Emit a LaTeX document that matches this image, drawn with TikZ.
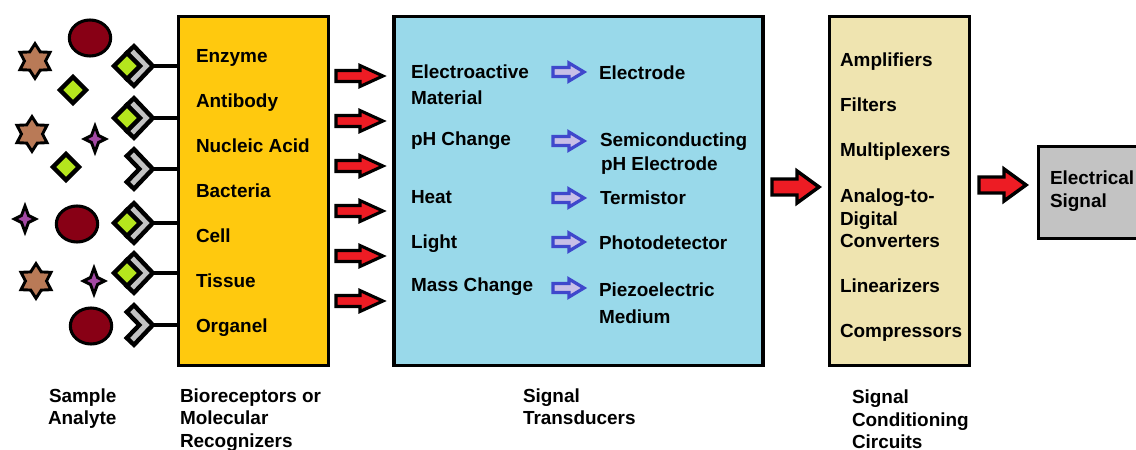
\documentclass[tikz,border=0pt]{standalone}
\usepackage{fontspec}
\setmainfont{Liberation Sans}
\usetikzlibrary{shapes.geometric}
\definecolor{boxyellow}{HTML}{FFC90E}
\definecolor{boxblue}{HTML}{99D9EA}
\definecolor{boxtan}{HTML}{EFE4B0}
\definecolor{boxgray}{HTML}{C3C3C3}
\definecolor{redarrow}{HTML}{ED1C24}
\definecolor{bluefill}{HTML}{C8BFE7}
\definecolor{blueline}{HTML}{3F48CC}
\definecolor{starbrown}{HTML}{B97A57}
\definecolor{maroon}{HTML}{880015}
\definecolor{plum}{HTML}{A349A4}
\definecolor{lime}{HTML}{B5E61D}
\definecolor{chevgray}{HTML}{C3C3C3}
\tikzset{
  panel/.style={draw=black,line width=2.6pt,inner sep=0pt,outer sep=0pt,anchor=north west},
  lbl/.style={anchor=base west,inner sep=0pt,outer sep=0pt,font=\fontsize{14.2}{14.2}\selectfont\bfseries,text=black},
  sixstar/.style={star,star points=6,star point ratio=1.65,draw=black,fill=starbrown,line width=2.2pt,minimum size=26pt,inner sep=0pt,outer sep=0pt},
  blob/.style={ellipse,draw=black,fill=maroon,line width=2.3pt,minimum width=31pt,minimum height=27pt,inner sep=0pt,outer sep=0pt},
  gem/.style={diamond,aspect=1,draw=black,fill=lime,line width=3.4pt,minimum size=19.5pt,inner sep=0pt,outer sep=0pt},
  conn/.style={draw=black,line width=2.3pt},
  chevron/.pic={\draw[draw=black,fill=chevgray,line width=3.3pt,miter limit=10] (-18.8,-19.8) -- (0,0) -- (-18.8,19.8) -- (-26,13) -- (-13.5,0) -- (-26,-13) -- cycle;},
  fourstar/.pic={\draw[draw=black,fill=plum,line width=2.2pt,miter limit=10] (0,-13) -- (3.5,-3.5) -- (10.5,0) -- (3.5,3.5) -- (0,13) -- (-3.5,3.5) -- (-10.5,0) -- (-3.5,-3.5) -- cycle;},
  redsmall/.pic={\draw[draw=black,fill=redarrow,line width=2.3pt,miter limit=10] (0,-5.5) -- (24,-5.5) -- (24,-10.5) -- (47,0) -- (24,10.5) -- (24,5.5) -- (0,5.5) -- cycle;},
  redlarge/.pic={\draw[draw=black,fill=redarrow,line width=2.6pt,miter limit=10] (0,-8) -- (25,-8) -- (25,-16) -- (47,0) -- (25,16) -- (25,8) -- (0,8) -- cycle;},
  bluesmall/.pic={\draw[draw=blueline,fill=bluefill,line width=2.4pt,miter limit=10] (0,-4.5) -- (16,-4.5) -- (16,-9) -- (31,0) -- (16,9) -- (16,4.5) -- (0,4.5) -- cycle;}
}
\begin{document}
\begin{tikzpicture}[x=0.75pt,y=-0.75pt]
\useasboundingbox (0,0) rectangle (1136,450);
% panels
\node[panel,fill=boxyellow,minimum width=112.5pt,minimum height=261.75pt] (bio) at (178.5,16.5) {};
\node[panel,fill=boxblue,minimum width=276.75pt,minimum height=261.75pt] (trans) at (394,16.5) {};
\node[panel,fill=boxtan,minimum width=105pt,minimum height=261.75pt] (cond) at (829.5,16.5) {};
\node[panel,fill=boxgray,minimum width=90pt,minimum height=69pt] (out) at (1038.5,146.5) {};
% receptor stems
\foreach \i/\y in {1/66,2/118,3/169,4/223,5/273,6/325}{
  \coordinate (r\i) at (152.8,\y);
  \draw[conn] (r\i) -- (r\i -| bio.west);
  \pic at (r\i) {chevron};
}
\foreach \i/\y in {1/66,2/118,4/223,5/273}{
  \node[gem] (g\i) at (127,\y) {};
}
% analytes
\node[blob] (e1) at (90,38) {};
\node[blob] (e2) at (77,224) {};
\node[blob] (e3) at (91,326) {};
\node[sixstar] (s1) at (35,61) {};
\node[sixstar] (s2) at (32,134) {};
\node[sixstar] (s3) at (36,281) {};
\node[gem] (d1) at (73,90) {};
\node[gem] (d2) at (66,167) {};
\coordinate (f1) at (95,139);
\coordinate (f2) at (25,219);
\coordinate (f3) at (94,281);
\foreach \f in {f1,f2,f3}{\pic at (\f) {fourstar};}
% red arrows
\foreach \i/\y in {1/76,2/121,3/166,4/211,5/256,6/301}{
  \coordinate (ra\i) at (336,\y);
  \pic at (ra\i) {redsmall};
}
\coordinate (rb) at (772,187);
\coordinate (rc) at (979,185);
\pic at (rb) {redlarge};
\pic at (rc) {redlarge};
% blue arrows
\foreach \i/\y in {1/72,2/141,3/198,4/242,5/288}{
  \coordinate (ba\i) at (553,\y);
  \pic at (ba\i) {bluesmall};
}
% bioreceptor labels
\node[lbl] (t1) at (196,62) {Enzyme};
\node[lbl] (t2) at (196,107) {Antibody};
\node[lbl] (t3) at (196,152) {Nucleic Acid};
\node[lbl] (t4) at (196,197) {Bacteria};
\node[lbl] (t5) at (196,242) {Cell};
\node[lbl] (t6) at (196,287) {Tissue};
\node[lbl] (t7) at (196,332) {Organel};
% transducer labels
\node[lbl] (a1) at (411,78) {Electroactive};
\node[lbl] (a2) at (411,104) {Material};
\node[lbl] (a3) at (411,145) {pH Change};
\node[lbl] (a4) at (411,203) {Heat};
\node[lbl] (a5) at (411,248) {Light};
\node[lbl] (a6) at (411,291) {Mass Change};
\node[lbl] (b1) at (599,79) {Electrode};
\node[lbl] (b2) at (600,146) {Semiconducting};
\node[lbl] (b3) at (601,170) {pH Electrode};
\node[lbl] (b4) at (600,204) {Termistor};
\node[lbl] (b5) at (599,249) {Photodetector};
\node[lbl] (b6) at (599,296) {Piezoelectric};
\node[lbl] (b7) at (599,323) {Medium};
% conditioning labels
\node[lbl] (c1) at (840,66) {Amplifiers};
\node[lbl] (c2) at (840,111) {Filters};
\node[lbl] (c3) at (840,156) {Multiplexers};
\node[lbl] (c4) at (840,202) {Analog-to-};
\node[lbl] (c5) at (840,225) {Digital};
\node[lbl] (c6) at (840,247) {Converters};
\node[lbl] (c7) at (840,292) {Linearizers};
\node[lbl] (c8) at (840,337) {Compressors};
% output
\node[lbl] (o1) at (1050,184) {Electrical};
\node[lbl] (o2) at (1050,207) {Signal};
% captions
\node[lbl] (k1) at (49,402) {Sample};
\node[lbl] (k2) at (48,424) {Analyte};
\node[lbl] (k3) at (180,402) {Bioreceptors or};
\node[lbl] (k4) at (180,424) {Molecular};
\node[lbl] (k5) at (180,447) {Recognizers};
\node[lbl] (k6) at (523,402) {Signal};
\node[lbl] (k7) at (523,424) {Transducers};
\node[lbl] (k8) at (852,403) {Signal};
\node[lbl] (k9) at (852,426) {Conditioning};
\node[lbl] (k10) at (852,448) {Circuits};
\end{tikzpicture}
\end{document}
